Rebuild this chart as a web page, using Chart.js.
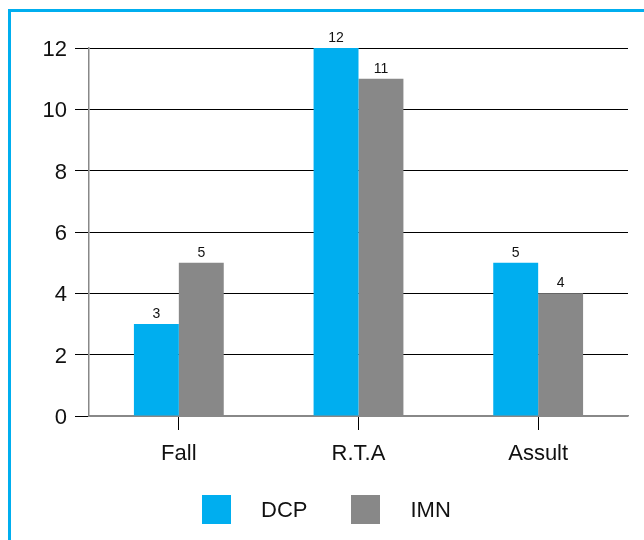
<!DOCTYPE html>
<html>
<head>
<meta charset="utf-8">
<script src="https://cdn.jsdelivr.net/npm/chart.js@4"></script>
<style>
  html, body { margin: 0; padding: 0; background: #fff; }
  body { width: 644px; height: 540px; position: relative; overflow: hidden; font-family: 'Liberation Sans', Arial, sans-serif; }
  #frame { position: absolute; left: 8px; top: 9px; width: 700px; height: 600px;
           border-left: 3px solid #00AEEF; border-top: 3px solid #00AEEF; }
  #chart { position: absolute; left: 0; top: 0; }
  #legend { position: absolute; left: 202px; top: 495px; height: 29px; display: flex; align-items: center; }
  #legend .item { display: flex; align-items: center; margin-right: 44px; }
  #legend .box { width: 29px; height: 29px; margin-right: 30px; }
  #legend .txt { font-size: 22px; color: #111; line-height: 29px; }
</style>
</head>
<body>
<div id="frame"></div>
<canvas id="chart" width="644" height="540"></canvas>
<div id="legend"></div>
<script>
  'use strict';

  var categories = ['Fall', 'R.T.A', 'Assult'];
  var dcpValues = [3, 12, 5];
  var imnValues = [5, 11, 4];
  var seriesNames = ['DCP', 'IMN'];
  var yTicks = [0, 2, 4, 6, 8, 10, 12];

  var BLUE = '#00AEEF';
  var GRAY = '#888888';
  var FONT = "'Liberation Sans', Arial, sans-serif";

  // value labels above each bar
  var valueLabels = {
    id: 'valueLabels',
    afterDatasetsDraw: function (chart) {
      var ctx = chart.ctx;
      ctx.save();
      ctx.font = '14px ' + FONT;
      ctx.fillStyle = '#111';
      ctx.textAlign = 'center';
      ctx.textBaseline = 'alphabetic';
      chart.data.datasets.forEach(function (ds, i) {
        chart.getDatasetMeta(i).data.forEach(function (bar, j) {
          ctx.fillText(String(ds.data[j]), bar.x, bar.y - 6);
        });
      });
      ctx.restore();
    }
  };

  var chart = new Chart(document.getElementById('chart').getContext('2d'), {
    type: 'bar',
    data: {
      labels: categories,
      datasets: [
        { label: seriesNames[0], data: dcpValues, backgroundColor: BLUE, borderWidth: 0 },
        { label: seriesNames[1], data: imnValues, backgroundColor: GRAY, borderWidth: 0 }
      ]
    },
    options: {
      responsive: false,
      animation: false,
      devicePixelRatio: 1,
      categoryPercentage: 0.5,
      barPercentage: 1.0,
      layout: { padding: { left: 10, right: 16, top: 48, bottom: 64 } },
      plugins: {
        legend: { display: false },
        tooltip: { enabled: false }
      },
      scales: {
        x: {
          offset: true,
          grid: { offset: false, drawOnChartArea: false, drawTicks: true, tickLength: 14, tickColor: '#000', tickWidth: 1 },
          border: { color: GRAY, width: 1.5 },
          ticks: { color: '#111', font: { family: FONT, size: 22 }, padding: 11, maxRotation: 0 },
          afterFit: function (s) { s.height = 60; }
        },
        y: {
          min: 0,
          max: 12,
          afterBuildTicks: function (s) { s.ticks = yTicks.map(function (v) { return { value: v }; }); },
          grid: {
            color: function (c) { return c.tick && c.tick.value === 0 ? GRAY : '#000'; },
            lineWidth: 1,
            drawTicks: true,
            tickLength: 14,
            tickColor: '#000'
          },
          border: { color: GRAY, width: 1.5 },
          ticks: { color: '#111', font: { family: FONT, size: 22 }, padding: 8, labelOffset: 2 },
          afterFit: function (s) { s.width = 79; }
        }
      }
    },
    plugins: [valueLabels]
  });

  // legend built from the chart's datasets
  var legend = document.getElementById('legend');
  chart.data.datasets.forEach(function (ds) {
    var item = document.createElement('div');
    item.className = 'item';
    var box = document.createElement('span');
    box.className = 'box';
    box.style.background = ds.backgroundColor;
    var txt = document.createElement('span');
    txt.className = 'txt';
    txt.textContent = ds.label;
    item.appendChild(box);
    item.appendChild(txt);
    legend.appendChild(item);
  });
</script>
</body>
</html>
